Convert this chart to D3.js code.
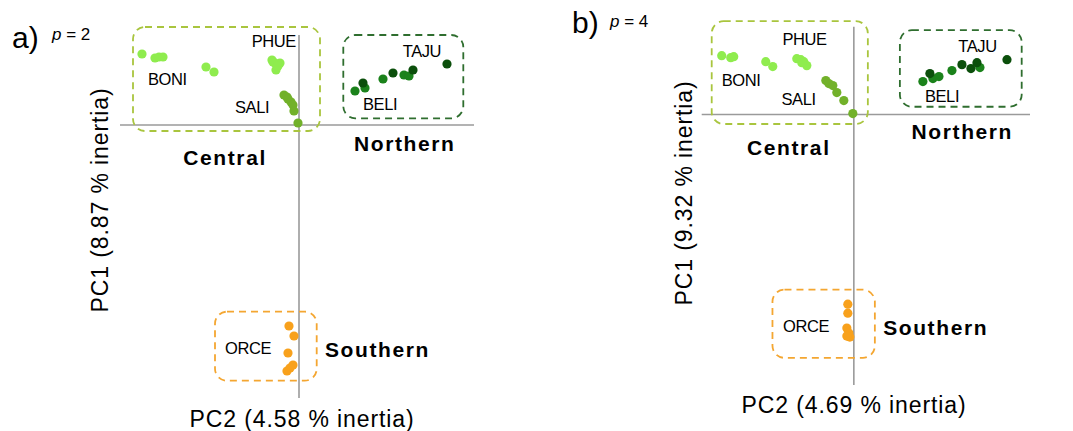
<!DOCTYPE html>
<html>
<head>
<meta charset="utf-8">
<script src="https://cdn.jsdelivr.net/npm/d3@7"></script>
<style>
  html, body { margin: 0; padding: 0; background: #ffffff; }
  svg { display: block; font-family: "Liberation Sans", Arial, sans-serif; }
</style>
</head>
<body>
<svg id="chart" width="1073" height="431"></svg>
<script>
// ---------- DATA (PC2, PC1) ----------
const populations = ["BONI", "PHUE", "SALI", "BELI", "TAJU", "ORCE"];
const regions = ["Central", "Northern", "Southern"];

// panel a) p = 2
const a_BONI = [[-1.57, 0.71], [-1.44, 0.67], [-1.40, 0.68], [-1.36, 0.68], [-0.93, 0.58], [-0.85, 0.53]];
const a_PHUE = [[-0.27, 0.65], [-0.24, 0.62], [-0.19, 0.62], [-0.23, 0.55], [-0.26, 0.63], [-0.21, 0.59]];
const a_SALI = [[-0.15, 0.30], [-0.12, 0.28], [-0.11, 0.26], [-0.08, 0.23], [-0.06, 0.20], [-0.05, 0.14], [-0.01, 0.02]];
const a_BELI = [[0.56, 0.34], [0.66, 0.37], [0.84, 0.46], [1.05, 0.50], [1.10, 0.49]];
const a_TAJU = [[0.64, 0.42], [0.94, 0.52], [1.14, 0.55], [1.48, 0.61]];
const a_ORCE = [[-0.10, -2.01], [-0.05, -2.11], [-0.11, -2.28], [-0.06, -2.40], [-0.12, -2.46], [-0.09, -2.43]];

// panel b) p = 4
const b_BONI = [[-1.32, 0.59], [-1.23, 0.57], [-1.20, 0.58], [-0.88, 0.53], [-0.81, 0.48]];
const b_PHUE = [[-0.57, 0.56], [-0.53, 0.55], [-0.50, 0.53], [-0.47, 0.49], [-0.52, 0.52]];
const b_SALI = [[-0.28, 0.34], [-0.25, 0.31], [-0.21, 0.29], [-0.17, 0.22], [-0.10, 0.14], [-0.01, 0.01]];
const b_BELI = [[0.69, 0.33], [0.79, 0.36], [0.85, 0.38], [0.98, 0.44], [1.26, 0.47]];
const b_TAJU = [[0.76, 0.41], [1.08, 0.50], [1.17, 0.46], [1.23, 0.52], [1.53, 0.55]];
const b_ORCE = [[-0.06, -1.90], [-0.06, -1.99], [-0.07, -2.14], [-0.05, -2.19], [-0.04, -2.23], [-0.07, -2.22]];

const panelLetters = ["a)", "b)"];
const panelP = ["2", "4"];
const pc1Inertia = ["8.87", "9.32"];
const pc2Inertia = ["4.58", "4.69"];

// ---------- STYLE ----------
const popColor = {
  BONI: "#8fec4e", PHUE: "#8fec4e", SALI: "#72b12a",
  BELI: "#1b821b", TAJU: "#0b4f0b", ORCE: "#f8a11c"
};
const boxColor = { Central: "#a9c53e", Northern: "#2f6e2f", Southern: "#f4a631" };

// ---------- LAYOUT ----------
const panels = [
  {
    data: { BONI: a_BONI, PHUE: a_PHUE, SALI: a_SALI, BELI: a_BELI, TAJU: a_TAJU, ORCE: a_ORCE },
    xDom: [-1.79, 1.75], xRange: [120, 474],
    yDom: [-2.73, 0.90], yRange: [398, 35],
    boxes: {
      Central: [-1.66, 0.21, 0.98, -0.06],
      Northern: [0.443, 1.643, 0.90, 0.067],
      Southern: [-0.84, 0.177, -1.867, -2.557]
    },
    popLabels: {
      BONI: [-1.51, 0.40], PHUE: [-0.473, 0.783], SALI: [-0.64, 0.123],
      TAJU: [1.037, 0.683], BELI: [0.64, 0.15], ORCE: [-0.74, -2.29]
    },
    regionLabels: { Central: [-1.157, -0.40], Northern: [0.55, -0.257], Southern: [0.26, -2.317] },
    letterPos: [12, 48], pPos: [52, 40],
    pc1Pos: [108, 200], pc2Pos: [302, 427]
  },
  {
    data: { BONI: b_BONI, PHUE: b_PHUE, SALI: b_SALI, BELI: b_BELI, TAJU: b_TAJU, ORCE: b_ORCE },
    xDom: [-1.52, 1.76], xRange: [701.7, 1030],
    yDom: [-2.71, 0.88], yRange: [385, 26.7],
    boxes: {
      Central: [-1.42, 0.14, 0.935, -0.095],
      Northern: [0.46, 1.677, 0.845, 0.078],
      Southern: [-0.813, 0.21, -1.755, -2.438]
    },
    popLabels: {
      BONI: [-1.32, 0.285], PHUE: [-0.713, 0.695], SALI: [-0.723, 0.095],
      TAJU: [1.043, 0.628], BELI: [0.71, 0.128], ORCE: [-0.707, -2.182]
    },
    regionLabels: { Central: [-1.067, -0.405], Northern: [0.577, -0.245], Southern: [0.293, -2.205] },
    letterPos: [572, 33], pPos: [610, 27],
    pc1Pos: [692, 193], pc2Pos: [854, 413]
  }
];

const svg = d3.select("#chart");

panels.forEach((p, i) => {
  const x = d3.scaleLinear().domain(p.xDom).range(p.xRange);
  const y = d3.scaleLinear().domain(p.yDom).range(p.yRange);
  const g = svg.append("g");

  // axes (through origin)
  g.append("line")
    .attr("x1", x(p.xDom[0])).attr("x2", x(p.xDom[1]))
    .attr("y1", y(0)).attr("y2", y(0))
    .attr("stroke", "#9a9a9a").attr("stroke-width", 1.6);
  g.append("line")
    .attr("x1", x(0)).attr("x2", x(0))
    .attr("y1", y(p.yDom[1])).attr("y2", y(p.yDom[0]))
    .attr("stroke", "#9a9a9a").attr("stroke-width", 1.6);

  // region boxes
  regions.forEach(r => {
    const b = p.boxes[r];
    g.append("rect")
      .attr("x", x(b[0])).attr("y", y(b[2]))
      .attr("width", x(b[1]) - x(b[0])).attr("height", y(b[3]) - y(b[2]))
      .attr("rx", 12).attr("ry", 12)
      .attr("fill", "none")
      .attr("stroke", boxColor[r]).attr("stroke-width", 1.8)
      .attr("stroke-dasharray", "7,5");
  });

  // points
  populations.forEach(pop => {
    g.selectAll(null).data(p.data[pop]).enter().append("circle")
      .attr("cx", d => x(d[0])).attr("cy", d => y(d[1]))
      .attr("r", 4.6)
      .attr("fill", popColor[pop]);
  });

  // population labels
  populations.forEach(pop => {
    const l = p.popLabels[pop];
    g.append("text")
      .attr("x", x(l[0])).attr("y", y(l[1]))
      .attr("font-size", 16.5).attr("letter-spacing", -0.4)
      .attr("fill", "#000").text(pop);
  });

  // region labels
  regions.forEach(r => {
    const l = p.regionLabels[r];
    g.append("text")
      .attr("x", x(l[0])).attr("y", y(l[1]))
      .attr("font-size", 21).attr("font-weight", "bold")
      .attr("letter-spacing", 1.6)
      .attr("fill", "#000").text(r);
  });

  // panel letter and p
  g.append("text").attr("x", p.letterPos[0]).attr("y", p.letterPos[1])
    .attr("font-size", 30).attr("fill", "#000").text(panelLetters[i]);
  const pt = g.append("text").attr("x", p.pPos[0]).attr("y", p.pPos[1])
    .attr("font-size", 17).attr("fill", "#000");
  pt.append("tspan").attr("font-style", "italic").text("p");
  pt.append("tspan").text(" = " + panelP[i]);

  // axis titles
  g.append("text")
    .attr("transform", `translate(${p.pc1Pos[0]},${p.pc1Pos[1]}) rotate(-90)`)
    .attr("text-anchor", "middle")
    .attr("font-size", 23).attr("letter-spacing", 0.9)
    .attr("fill", "#000")
    .text(`PC1 (${pc1Inertia[i]} % inertia)`);
  g.append("text")
    .attr("x", p.pc2Pos[0]).attr("y", p.pc2Pos[1])
    .attr("text-anchor", "middle")
    .attr("font-size", 23).attr("letter-spacing", 0.9)
    .attr("fill", "#000")
    .text(`PC2 (${pc2Inertia[i]} % inertia)`);
});
</script>
</body>
</html>
